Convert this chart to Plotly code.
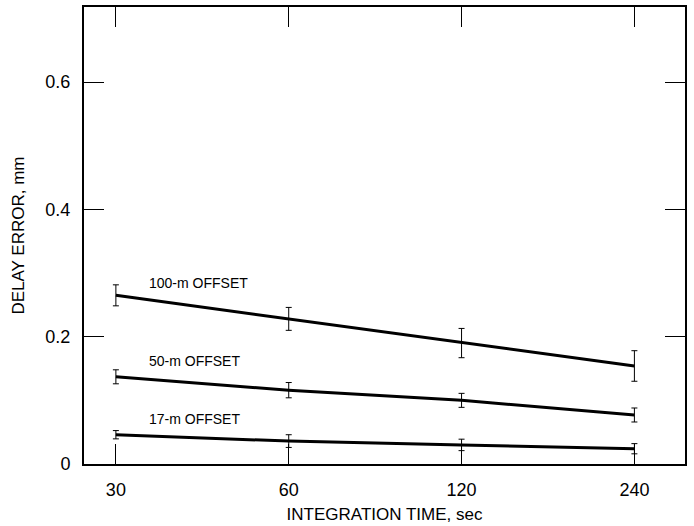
import plotly.graph_objects as go
import math

time_s = [30, 60, 120, 240]
series_names = ["100-m OFFSET", "50-m OFFSET", "17-m OFFSET"]
err_100 = [0.265, 0.228, 0.190, 0.154]
bar_100 = [0.0165, 0.018, 0.023, 0.024]
err_50 = [0.137, 0.116, 0.100, 0.077]
bar_50 = [0.011, 0.012, 0.011, 0.011]
err_17 = [0.046, 0.036, 0.030, 0.024]
bar_17 = [0.0065, 0.010, 0.009, 0.008]
label_y = [0.284, 0.162, 0.071]
y_ticks = [0, 0.2, 0.4, 0.6]
y_ticktext = ["0", "0.2", "0.4", "0.6"]

FONT = "Liberation Sans Narrow, Arial Narrow, Liberation Sans, Arial, sans-serif"

fig = go.Figure()
for name, ys, es in zip(series_names, [err_100, err_50, err_17], [bar_100, bar_50, bar_17]):
    fig.add_trace(go.Scatter(
        x=time_s, y=ys, mode="lines", name=name,
        line=dict(color="black", width=3),
        error_y=dict(type="data", array=es, visible=True, color="black", thickness=1, width=3),
        showlegend=False,
    ))

for name, ly in zip(series_names, label_y):
    fig.add_annotation(x=math.log10(34.0), y=ly, xref="x", yref="y", text=name,
                       showarrow=False, xanchor="left", yanchor="middle",
                       font=dict(family=FONT, size=14, color="black"))

axis_common = dict(showline=True, linecolor="black", linewidth=2, mirror="ticks",
                   ticks="inside", ticklen=20, tickwidth=1, tickcolor="black",
                   showgrid=False, zeroline=False, automargin=False,
                   tickfont=dict(family=FONT, size=18, color="black"))

fig.update_xaxes(type="log", range=[math.log10(26.4), math.log10(294)],
                 tickvals=time_s, ticktext=[str(t) for t in time_s],
                 ticklabelstandoff=8,
                 title=dict(text="INTEGRATION TIME, sec", font=dict(family=FONT, size=17, color="black"), standoff=10),
                 **axis_common)
fig.update_yaxes(range=[0, 0.718], tickvals=y_ticks, ticktext=y_ticktext,
                 ticklabelstandoff=8,
                 title=dict(text="DELAY ERROR, mm", font=dict(family=FONT, size=17, color="black"), standoff=16),
                 **axis_common)

fig.update_layout(width=694, height=526, margin=dict(l=84, r=9, t=7, b=62),
                  paper_bgcolor="white", plot_bgcolor="white",
                  font=dict(family=FONT, color="black"))

fig.write_html("out.html")
